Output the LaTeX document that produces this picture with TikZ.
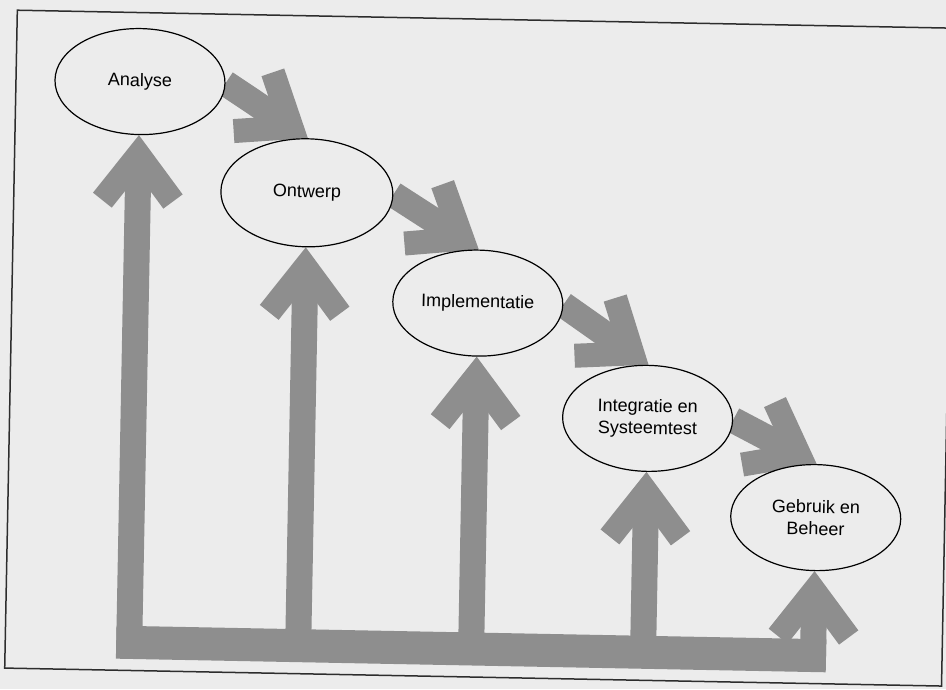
\documentclass[tikz,border=0pt]{standalone}
\usepackage{fontspec}
\setmainfont{Liberation Sans}
\usetikzlibrary{calc,shapes.geometric}
\definecolor{paper}{RGB}{236,236,236}
\definecolor{arrowgray}{RGB}{142,142,142}
\definecolor{framegray}{RGB}{45,45,45}
\pgfdeclarelayer{bg}
\pgfdeclarelayer{arrows}
\pgfsetlayers{bg,arrows,main}
\tikzset{
  phase/.style={ellipse, draw=black, line width=1.2pt, fill=paper,
    minimum width=170pt, minimum height=106pt, inner sep=0pt,
    align=center, font=\fontsize{18}{22}\selectfont, transform shape},
  shaft/.style={draw=arrowgray, line width=26pt, line cap=butt},
  chevron/.style={draw=arrowgray, line width=24pt, line cap=butt, line join=miter},
  bar/.style={draw=arrowgray, line width=33pt, line cap=butt},
  frameline/.style={draw=framegray, line width=1.5pt},
}
% #1 start, #2 tip, #3 name of the head vertex
\newcommand\flowarrow[3]{%
  \coordinate (#3) at ($(#2)!19.7pt!(#1)$);
  \draw[shaft] (#1) -- (#3);
  \draw[chevron] ($(#3)!58pt!37.5:(#1)$) -- (#3) -- ($(#3)!58pt!-37.5:(#1)$);
}
\begin{document}
\begin{tikzpicture}[x=1pt,y=-1pt]
\useasboundingbox (0,0) rectangle (946,689);
\clip (0,0) rectangle (946,689);
\begin{pgfonlayer}{bg}
  \fill[paper] (0,0) rectangle (946,689);
\end{pgfonlayer}
\begin{scope}[rotate around={-1.1:(473,344)}]
  \begin{pgfonlayer}{bg}
    \draw[frameline] (11,19) rectangle (948,677);
  \end{pgfonlayer}

  \node[phase] (ana) at (135,88) {Analyse};
  \node[phase, minimum width=172pt, minimum height=108pt] (ont) at (304,196) {Ontwerp};
  \node[phase] (imp) at (477,303) {Implementatie};
  \node[phase] (int) at (649,415) {Integratie en\\Systeemtest};
  \node[phase] (geb) at (819,511) {Gebruik en\\Beheer};

  \coordinate (j1) at (135,649);
  \coordinate (j2) at (304,649);
  \coordinate (j3) at (477,649);
  \coordinate (j4) at (649,649);
  \coordinate (j5) at (819,649);
  \coordinate (barL) at (122,649);
  \coordinate (barR) at (832,649);

  \begin{pgfonlayer}{arrows}
    \draw[bar] (barL) -- (barR);
    \flowarrow{j1}{ana.south}{u1}
    \flowarrow{j2}{ont.south}{u2}
    \flowarrow{j3}{imp.south}{u3}
    \flowarrow{j4}{int.south}{u4}
    \flowarrow{j5}{geb.south}{u5}
    \flowarrow{ana.east}{ont.north}{d1}
    \flowarrow{ont.east}{imp.north}{d2}
    \flowarrow{imp.east}{int.north}{d3}
    \flowarrow{int.east}{geb.north}{d4}
  \end{pgfonlayer}
\end{scope}
\end{tikzpicture}
\end{document}
